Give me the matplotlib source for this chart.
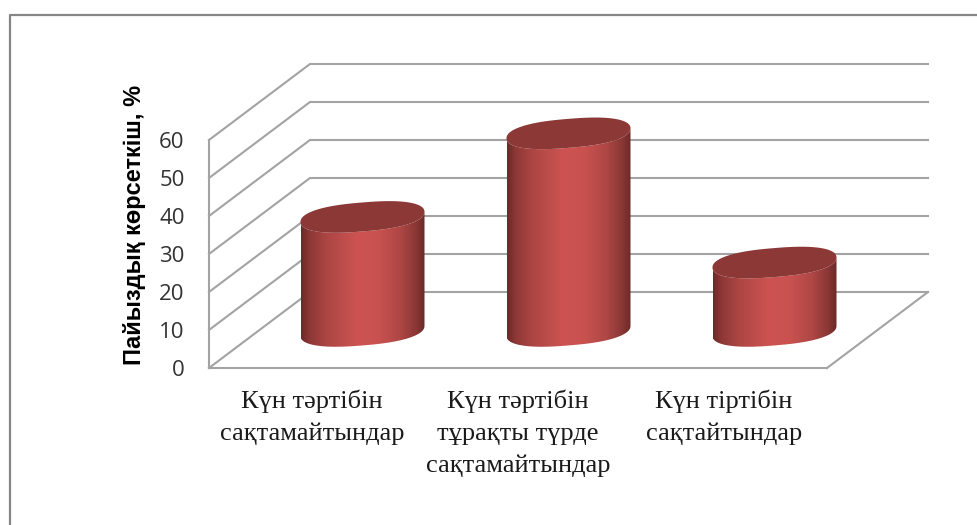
import numpy as np
import matplotlib
matplotlib.use("Agg")
import matplotlib.pyplot as plt
from matplotlib.colors import LinearSegmentedColormap
from matplotlib.lines import Line2D
from matplotlib.path import Path
from matplotlib.patches import Polygon

categories = ["Күн тәртібін\nсақтамайтындар",
              "Күн тәртібін\nтұрақты түрде\nсақтамайтындар",
              "Күн тіртібін\nсақтайтындар"]
values = [30, 52, 18]
y_ticks = [0, 10, 20, 30, 40, 50, 60]
y_title = "Пайыздық көрсеткіш, %"

W, H = 977, 525
fig = plt.figure(figsize=(W / 100, H / 100), dpi=100, facecolor="white")
L, R, B, T = 209, 827, 368, 140
ax = fig.add_axes([L / W, 1 - B / H, (R - L) / W, (B - T) / H])
ax.set_xlim(0, 3)
ax.set_ylim(0, 60)
ax.patch.set_visible(False)

px = 3 / (R - L)
py = 60 / (B - T)
dx, dy = 101 * px, 76 * py
GRID = "#a3a3a3"

# chart frame
fig.add_artist(Line2D([9.5 / W, 9.5 / W, 1], [0, 1 - 14.5 / H, 1 - 14.5 / H],
                      color="#868686", lw=1.6))

# walls and gridlines
for v in y_ticks:
    ax.plot([0, dx, 3 + dx], [v, v + dy, v + dy], color=GRID, lw=1.5,
            clip_on=False, zorder=1, solid_joinstyle="miter")
ax.plot([3, 3 + dx], [0, dy], color=GRID, lw=1.5, clip_on=False, zorder=1)

for s in ("top", "right"):
    ax.spines[s].set_visible(False)
for s in ("left", "bottom"):
    ax.spines[s].set_color(GRID)
    ax.spines[s].set_linewidth(1.5)

# cylinders
stops = [(0, "#6c2a28"), (.07, "#8e3836"), (.2, "#ab4543"), (.45, "#cc5351"),
         (.62, "#c95250"), (.8, "#ae4745"), (.93, "#8a3735"), (1, "#6b2a28")]
cmap = LinearSegmentedColormap.from_list("cyl", stops)
grad = np.linspace(0, 1, 256)[None, :]
RX, TILT, RY = 62, 5, 14.5
BASE = 9.75


def ring(cx, cy, t):
    c, s = np.cos(t), np.sin(t)
    c = np.sign(c) * np.abs(c) ** 0.8
    s = np.sign(s) * np.abs(s) ** 0.9
    return np.c_[cx + RX * px * c, cy + (TILT * c + RY * s) * py]


for i, v in enumerate(values):
    cx = i + 0.5 + dx / 2
    lower = np.linspace(np.pi, 2 * np.pi, 80)
    low = ring(cx, BASE, lower)
    up = ring(cx, BASE + v, lower)[::-1]
    verts = np.r_[low, up, low[:1]]
    im = ax.imshow(grad, cmap=cmap, aspect="auto", zorder=3,
                   extent=[cx - RX * px, cx + RX * px, BASE - 10, BASE + v + 10],
                   interpolation="bilinear")
    im.set_clip_box(fig.bbox)
    im.set_clip_path(Path(verts), transform=ax.transData)
    ax.add_patch(Polygon(ring(cx, BASE + v, np.linspace(0, 2 * np.pi, 200)),
                         closed=True, facecolor="#8c3836", edgecolor="none",
                         zorder=4, clip_on=False))

ax.set_xlim(0, 3)
ax.set_ylim(0, 60)

ax.set_yticks(y_ticks)
ax.set_yticklabels([str(v) for v in y_ticks], family="Open Sans", fontsize=16, color="#333333")
ax.tick_params(axis="y", length=0, pad=17.5)
ax.set_xticks([i + 0.5 for i in range(len(categories))])
ax.set_xticklabels(categories, family="Liberation Serif", fontsize=19,
                   color="#1a1a1a", linespacing=1.56, va="top")
ax.tick_params(axis="x", length=0, pad=15.5)
ax.set_ylabel(y_title, family="Liberation Sans", fontsize=17, fontweight="bold", color="black")
ax.yaxis.set_label_coords((146 - L) / (R - L), (B - 225) / (B - T))

fig.savefig("out.png", dpi=100)
